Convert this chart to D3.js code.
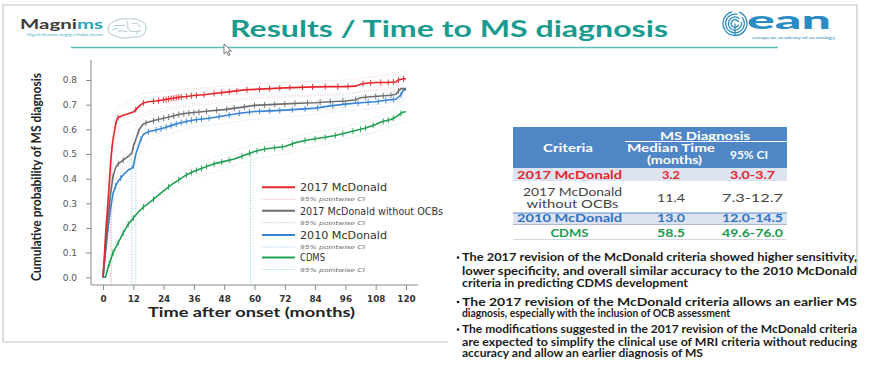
<!DOCTYPE html>
<html><head><meta charset="utf-8">
<script src="https://cdn.jsdelivr.net/npm/d3@7"></script>
<style>body{margin:0;background:#fff}svg{display:block}</style>
</head><body><svg id="c" width="874" height="368"></svg>
<script>
// ---------- DATA ----------
const seriesNames = ["2017 McDonald", "2017 McDonald without OCBs", "2010 McDonald", "CDMS"];
const seriesColors = ["#e3262b", "#6e6e6e", "#3584d2", "#1f9e52"];
const ciColors = ["#f0a0a0", "#b8b8b8", "#9cc6ee", "#8fd0c8"];

const redT = [0,0.5,1,1.5,2,2.5,3,3.5,4,4.5,5,5.5,6,7,8,10,12,13,14,15,16,18,21,24,27,30,33,36,40,44,48,52,56,60,66,72,78,84,90,96,100,102,104,108,112,116,117,119,120];
const redV = [0,0.08,0.17,0.24,0.31,0.38,0.46,0.52,0.56,0.59,0.62,0.64,0.648,0.652,0.657,0.663,0.67,0.68,0.69,0.70,0.707,0.712,0.715,0.72,0.725,0.73,0.733,0.737,0.74,0.745,0.75,0.755,0.76,0.762,0.765,0.768,0.77,0.772,0.773,0.773,0.775,0.783,0.787,0.79,0.79,0.792,0.80,0.805,0.805];

const grayT = [0,1,2,3,4,5,6,8,10,11,11.5,12,13,14,15,16,18,21,24,27,30,33,36,42,48,54,60,66,72,78,84,90,96,100,102,106,110,114,116,117,118,120];
const grayV = [0,0.12,0.24,0.34,0.41,0.445,0.46,0.475,0.49,0.5,0.505,0.53,0.56,0.59,0.61,0.622,0.63,0.638,0.645,0.652,0.66,0.665,0.668,0.674,0.68,0.688,0.697,0.70,0.703,0.706,0.708,0.712,0.715,0.72,0.728,0.732,0.735,0.738,0.742,0.755,0.765,0.765];

const blueT = [0,1,2,3,4,5,6,8,10,11,12,13,14,15,16,18,21,24,27,30,33,36,42,48,54,60,66,72,78,84,90,96,102,108,112,116,118,119,120];
const blueV = [0,0.1,0.2,0.28,0.34,0.37,0.39,0.415,0.435,0.44,0.45,0.5,0.53,0.56,0.58,0.59,0.597,0.605,0.615,0.625,0.632,0.638,0.645,0.655,0.665,0.672,0.675,0.678,0.682,0.686,0.695,0.702,0.708,0.712,0.718,0.722,0.74,0.76,0.76];

const greenT = [0,1,2,3,4,5,6,8,10,12,14,16,18,21,24,27,30,33,36,40,44,48,52,56,60,64,68,72,76,80,84,88,92,96,100,104,108,110,112,114,116,118,119,120];
const greenV = [0,0,0.04,0.07,0.1,0.12,0.14,0.18,0.215,0.24,0.265,0.285,0.30,0.325,0.35,0.375,0.395,0.415,0.43,0.445,0.46,0.47,0.48,0.495,0.51,0.52,0.525,0.53,0.545,0.555,0.562,0.568,0.575,0.585,0.595,0.605,0.62,0.63,0.635,0.64,0.65,0.665,0.67,0.67];

const ciT = [0,2,4,6,10,14,18,24,36,48,60,72,84,96,108,116,120];
const redUp = [0,0.36,0.62,0.69,0.71,0.74,0.75,0.755,0.765,0.775,0.785,0.79,0.795,0.80,0.815,0.825,0.84];
const redLo = [0,0.26,0.50,0.61,0.625,0.645,0.675,0.685,0.705,0.72,0.73,0.735,0.74,0.745,0.76,0.76,0.77];
const grayUp = [0,0.28,0.46,0.50,0.53,0.63,0.66,0.675,0.695,0.71,0.725,0.73,0.735,0.74,0.76,0.77,0.80];
const grayLo = [0,0.20,0.36,0.42,0.45,0.55,0.60,0.615,0.64,0.65,0.665,0.675,0.68,0.69,0.70,0.71,0.73];
const blueUp = [0,0.24,0.38,0.43,0.47,0.57,0.62,0.635,0.665,0.685,0.70,0.705,0.715,0.73,0.74,0.75,0.79];
const blueLo = [0,0.16,0.30,0.35,0.40,0.49,0.56,0.575,0.61,0.625,0.64,0.65,0.66,0.675,0.685,0.695,0.73];
const greenUp = [0,0.06,0.12,0.17,0.24,0.30,0.33,0.38,0.46,0.50,0.54,0.56,0.59,0.61,0.65,0.68,0.72];
const greenLo = [0,0.02,0.07,0.11,0.17,0.23,0.27,0.32,0.40,0.44,0.48,0.50,0.53,0.56,0.59,0.62,0.63];

const redCensor = [1.5,2.5,3.5,5,6,13,16,20,22,24,25,26,27,28,29,30,31,33,35,37,40,44,47,50,53,57,62,66,70,74,79,83,88,93,97,103,106,110,113,115,117,119];
const grayCensor = [2.5,4,6,8,12,14,17,20,22,24,26,28,30,32,34,36,38,41,45,49,52,56,60,64,68,72,76,81,86,90,95,100,104,108,111,114,117];
const blueCensor = [2,3,5,7,12,15,18,21,23,25,27,29,31,33,35,37,39,42,46,50,54,58,62,66,70,75,80,85,91,96,101,105,109,112,115,118];
const greenCensor = [2.5,4,6,8,10,12,16,20,26,30,33,35,37,39,41,44,47,50,55,58,61,64,68,71,75,80,84,88,92,95,99,102,104,107,111,113,115,118];

const medians = [3.2, 11.4, 13.0, 58.5];
const xTicks = [0,12,24,36,48,60,72,84,96,108,120];
const yTicks = [0,0.1,0.2,0.3,0.4,0.5,0.6,0.7,0.8];

const tableCriteria = [["2017 McDonald"], ["2017 McDonald", "without OCBs"], ["2010 McDonald"], ["CDMS"]];
const tableMedian = ["3.2", "11.4", "13.0", "58.5"];
const tableCI = ["3.0-3.7", "7.3-12.7", "12.0-14.5", "49.6-76.0"];
const tableColors = ["#e3262b", "#444444", "#2f74c0", "#1e9a4c"];

const bullets = [
  ["The 2017 revision of the McDonald criteria showed higher sensitivity,",
   "lower specificity, and overall similar accuracy to the 2010 McDonald",
   "criteria in predicting CDMS development"],
  ["The 2017 revision of the McDonald criteria allows an earlier MS",
   "diagnosis, especially with the inclusion of OCB assessment"],
  ["The modifications suggested in the 2017 revision of the McDonald criteria",
   "are expected to simplify the clinical use of MRI criteria without reducing",
   "accuracy and allow an earlier diagnosis of MS"]
];

// ---------- DRAW ----------
const svg = d3.select("#c");
const fit = (s, w, adj) => s.attr("textLength", w).attr("lengthAdjust", adj || "spacingAndGlyphs");
const SLIDE = "Lato, 'Open Sans', sans-serif";
const RF = "'DejaVu Sans', Verdana, sans-serif";

// slide frame
const frame = svg.append("g").attr("stroke", "#c4c4c4").attr("stroke-width", 1.2).attr("fill", "none");
frame.append("path").attr("d", "M3,342V5H857V272");
frame.append("path").attr("d", "M3,342H448");

// title
fit(svg.append("text").attr("x", 230).attr("y", 37).attr("font-family", SLIDE).attr("font-weight", 700)
  .attr("font-size", 23).attr("fill", "#1b9a8f").text("Results / Time to MS diagnosis"), 438);
svg.append("line").attr("x1", 71).attr("x2", 778).attr("y1", 47.5).attr("y2", 47.5)
  .attr("stroke", "#5cbcbc").attr("stroke-width", 1.5);

// Magnims logo
const mg = svg.append("text").attr("x", 20).attr("y", 29).attr("font-family", SLIDE).attr("font-weight", 700).attr("font-size", 12.5);
mg.append("tspan").attr("fill", "#3d3d3d").text("Magni");
mg.append("tspan").attr("fill", "#2aa6b6").text("ms");
fit(mg, 83);
fit(svg.append("text").attr("x", 27).attr("y", 36).attr("font-family", SLIDE).attr("font-size", 3)
  .attr("fill", "#3aa7c0").text("Magnetic Resonance Imaging in Multiple Sclerosis"), 76);
const brain = svg.append("g").attr("fill", "none").attr("stroke", "#9fb6bf").attr("stroke-width", 0.8);
brain.append("path").attr("d", "M108,30 C108,22 118,18 128,19 C138,18 147,22 146,29 C146,35 140,38 132,37 C126,39 118,38 113,35 C110,34 108,33 108,30Z");
brain.append("path").attr("d", "M114,26 C118,24 121,27 125,25 M127,21 C129,25 126,28 130,31 C134,33 137,30 141,31 M118,32 C121,29 124,33 127,31 M132,24 C135,22 139,24 140,27");
brain.append("path").attr("d", "M112,30 L118,28 M136,35 L138,31").attr("stroke", "#7fc9d4");

// EAN logo
const ean = svg.append("g").attr("fill", "none").attr("stroke", "#2b8cc4").attr("stroke-width", 1.3);
[12, 9.3, 6.6, 3.9].forEach((r, i) => {
  const a0 = 0.35 + i * 0.5, a1 = a0 + 2 * Math.PI - 0.6;
  ean.append("path").attr("d", d3.arc()({innerRadius: r, outerRadius: r, startAngle: a0, endAngle: a1}))
    .attr("transform", "translate(735,23.5)");
});
ean.append("path").attr("d", "M735,23.5 V36");
fit(svg.append("text").attr("x", 747).attr("y", 29).attr("font-family", SLIDE).attr("font-weight", 900)
  .attr("font-size", 25).attr("fill", "#2b8cc4").text("ean"), 84);
fit(svg.append("text").attr("x", 752).attr("y", 38.5).attr("font-family", SLIDE).attr("font-size", 3.2)
  .attr("fill", "#2b8cc4").text("european academy of neurology"), 83);

// cursor
svg.append("path").attr("d", "M224,44 L224,54 L226.5,51.5 L228.5,55.5 L230,54.8 L228,51 L231.5,51 Z")
  .attr("fill", "#fff").attr("stroke", "#444").attr("stroke-width", 0.7);

// ---------- PLOT ----------
const x = d3.scaleLinear().domain([0, 120]).range([103, 406]);
const y = d3.scaleLinear().domain([0, 0.8]).range([277.3, 80]);
const plot = svg.append("g");

plot.append("path").attr("d", `M91,60V285H418`).attr("fill", "none").attr("stroke", "#8a8a8a").attr("stroke-width", 1);

const yAx = plot.append("g").attr("transform", "translate(91,0)")
  .call(d3.axisLeft(y).tickValues(yTicks).tickFormat(d3.format(".1f")).tickSize(5).tickPadding(9));
yAx.select(".domain").remove();
yAx.selectAll("line").attr("stroke", "#8a8a8a");
yAx.selectAll("text").attr("font-family", RF).attr("font-size", 9).attr("fill", "#555").attr("font-weight", 400);

const xAx = plot.append("g").attr("transform", "translate(0,285)")
  .call(d3.axisBottom(x).tickValues(xTicks).tickSize(5).tickPadding(6));
xAx.select(".domain").remove();
xAx.selectAll("line").attr("stroke", "#8a8a8a");
xAx.selectAll("text").attr("font-family", RF).attr("font-size", 8.8).attr("fill", "#333").attr("font-weight", 700);

fit(plot.append("text").attr("transform", "translate(41,177) rotate(-90)").attr("text-anchor", "middle")
  .attr("font-family", SLIDE).attr("font-weight", 700).attr("font-size", 13).attr("fill", "#222")
  .text("Cumulative probability of MS diagnosis"), 208);
fit(plot.append("text").attr("x", 148).attr("y", 317).attr("font-family", SLIDE).attr("font-weight", 700)
  .attr("font-size", 14).attr("fill", "#222").text("Time after onset (months)"), 207);

const series = [
  {t: redT, v: redV, up: redUp, lo: redLo, cens: redCensor},
  {t: grayT, v: grayV, up: grayUp, lo: grayLo, cens: grayCensor},
  {t: blueT, v: blueV, up: blueUp, lo: blueLo, cens: blueCensor},
  {t: greenT, v: greenV, up: greenUp, lo: greenLo, cens: greenCensor}
];
const line = d3.line().x(d => x(d[0])).y(d => y(d[1]));

plot.selectAll(".med").data(medians).join("line").attr("class", "med")
  .attr("x1", d => x(d)).attr("x2", d => x(d)).attr("y1", y(0.5)).attr("y2", 285)
  .attr("stroke", (d, i) => i === 0 ? "#e77" : (i === 3 ? "#6cc4c0" : "#8fc8dc"))
  .attr("stroke-width", 0.9).attr("stroke-dasharray", "1.2,1.5");

series.forEach((s, i) => {
  [s.up, s.lo].forEach(arr => {
    plot.append("path").attr("d", line(ciT.map((t, k) => [t, arr[k]])))
      .attr("fill", "none").attr("stroke", ciColors[i]).attr("stroke-width", 0.7)
      .attr("stroke-dasharray", "1,1.3").attr("opacity", 0.65);
  });
});

[3, 2, 1, 0].forEach(i => {
  const s = series[i];
  plot.append("path").attr("d", line(s.t.map((t, k) => [t, s.v[k]])))
    .attr("fill", "none").attr("stroke", seriesColors[i]).attr("stroke-width", 1.6);
  const interp = d3.scaleLinear().domain(s.t).range(s.v);
  plot.append("g").selectAll("line").data(s.cens).join("line")
    .attr("x1", d => x(d)).attr("x2", d => x(d))
    .attr("y1", d => y(interp(d)) - 3).attr("y2", d => y(interp(d)) + 3)
    .attr("stroke", seriesColors[i]).attr("stroke-width", 0.9);
});

const legY = [187.3, 210.7, 235, 257.5];
const legW = [87, 143, 87, 25];
const leg = plot.append("g");
seriesNames.forEach((n, i) => {
  leg.append("line").attr("x1", 262).attr("x2", 295).attr("y1", legY[i]).attr("y2", legY[i])
    .attr("stroke", seriesColors[i]).attr("stroke-width", 2);
  fit(leg.append("text").attr("x", 300).attr("y", legY[i] + 3.8).attr("font-family", RF).attr("font-size", 10)
    .attr("fill", "#333").text(n), legW[i]);
  leg.append("line").attr("x1", 262).attr("x2", 295).attr("y1", legY[i] + 12).attr("y2", legY[i] + 12)
    .attr("stroke", ciColors[i]).attr("stroke-width", 1).attr("stroke-dasharray", "1,1.3");
  fit(leg.append("text").attr("x", 300).attr("y", legY[i] + 14).attr("font-family", RF).attr("font-size", 5.5)
    .attr("font-style", "italic").attr("fill", "#666").text("95% pointwise CI"), 65);
});

// ---------- TABLE ----------
const tb = svg.append("g").attr("font-family", SLIDE).attr("font-weight", 700);
tb.append("rect").attr("x", 513).attr("y", 127).attr("width", 274).attr("height", 41).attr("fill", "#4f86c6");
tb.append("line").attr("x1", 625).attr("x2", 787).attr("y1", 141.5).attr("y2", 141.5).attr("stroke", "#fff").attr("stroke-width", 1.2);
const rowTop = [168, 181, 213, 224.5];
const rowH = [13, 32, 11.5, 15];
const rowFill = ["#dde3f0", "#ffffff", "#dde3f0", "#ffffff"];
tb.selectAll(".rb").data(rowTop).join("rect").attr("class", "rb")
  .attr("x", 513).attr("width", 274).attr("y", d => d).attr("height", (d, i) => rowH[i]).attr("fill", (d, i) => rowFill[i]);
tb.append("line").attr("x1", 513).attr("x2", 787).attr("y1", 213).attr("y2", 213).attr("stroke", "#5b8fd0").attr("stroke-width", 1);
tb.append("line").attr("x1", 513).attr("x2", 787).attr("y1", 224.5).attr("y2", 224.5).attr("stroke", "#9aa8bc").attr("stroke-width", 0.8);
tb.append("line").attr("x1", 513).attr("x2", 787).attr("y1", 239.5).attr("y2", 239.5).attr("stroke", "#c8cfd8").attr("stroke-width", 0.8);

const hdr = [["MS Diagnosis", 705, 139.5, 90], ["Criteria", 568, 152, 50], ["Median Time", 671, 152, 88],
             ["(months)", 674.5, 164, 55], ["95% CI", 749, 158.5, 38]];
hdr.forEach(h => fit(tb.append("text").attr("x", h[1]).attr("y", h[2]).attr("text-anchor", "middle")
  .attr("font-size", 11).attr("fill", "#fff").text(h[0]), h[3]));

const baseY = [[178.5], [196, 208], [222], [237]];
tableCriteria.forEach((lines, i) => {
  const col = tableColors[i], wt = i === 1 ? 400 : 700;
  lines.forEach((t, k) => {
    const w = i === 3 ? 38 : (k === 1 ? 92 : (i === 1 ? 99 : 105));
    fit(tb.append("text").attr("x", i === 1 ? 572.5 : 569.5).attr("y", baseY[i][k]).attr("text-anchor", "middle")
      .attr("font-size", 11).attr("font-weight", wt).attr("fill", col).text(t), w);
  });
  const my = i === 1 ? 202 : baseY[i][0];
  fit(tb.append("text").attr("x", 671).attr("y", my).attr("text-anchor", "middle").attr("font-size", 11)
    .attr("font-weight", wt).attr("fill", col).text(tableMedian[i]), i === 0 ? 18 : 28);
  fit(tb.append("text").attr("x", 752.5).attr("y", my).attr("text-anchor", "middle").attr("font-size", 11)
    .attr("font-weight", wt).attr("fill", col).text(tableCI[i]), i === 0 ? 45 : 61);
});

// ---------- BULLETS ----------
const bl = svg.append("g").attr("font-family", SLIDE).attr("font-weight", 700).attr("font-size", 10.5).attr("fill", "#1c1c1c");
const bY = [[261, 274.5, 286.5], [305.5, 317], [333, 345.5, 357]];
const lastW = [226, 268, 241];
bullets.forEach((para, p) => {
  bl.append("circle").attr("cx", 458).attr("cy", bY[p][0] - 3.5).attr("r", 1.3).attr("fill", "#1c1c1c");
  para.forEach((ln, k) => {
    const last = k === para.length - 1;
    fit(bl.append("text").attr("x", 462).attr("y", bY[p][k]).text(ln), last ? lastW[p] : 395, "spacingAndGlyphs");
  });
});
</script></body></html>
